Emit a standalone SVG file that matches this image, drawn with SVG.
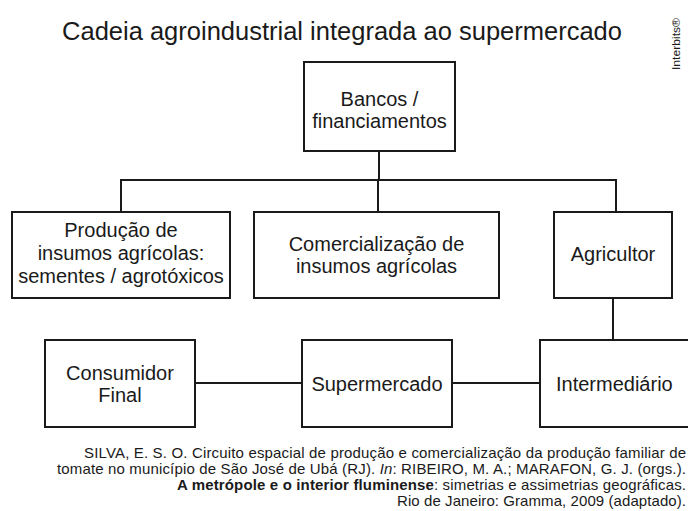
<svg xmlns="http://www.w3.org/2000/svg" width="688" height="511" viewBox="0 0 688 511">
<style>
text{font-family:"Liberation Sans",Arial,sans-serif;fill:#1a1a1a}
.box{fill:#fff;stroke:#1a1a1a;stroke-width:2}
.lbl{font-size:20px;text-anchor:middle}
.con{fill:none;stroke:#1a1a1a;stroke-width:2}
.cit{font-size:15px;text-anchor:end}
</style>
<rect width="688" height="511" fill="#fff"/>
<text x="342" y="40" font-size="25.5" text-anchor="middle">Cadeia agroindustrial integrada ao supermercado</text>
<text transform="translate(680,70) rotate(-90)" font-size="11" textLength="52" lengthAdjust="spacingAndGlyphs">Interbits®</text>
<g id="connectors">
<path class="con" d="M379 151V180M121 212V180H616V212M378 180V212M613 298V340M195 383H302M452 383H540"/>
</g>
<g id="bancos"><rect class="box" x="304" y="62" width="151" height="89"/><text class="lbl" x="379.5" y="106">Bancos /</text><text class="lbl" x="379.5" y="128">financiamentos</text></g>
<g id="producao"><rect class="box" x="12" y="212" width="218" height="86"/><text class="lbl" x="121" y="237">Produção de</text><text class="lbl" x="121" y="260">insumos agrícolas:</text><text class="lbl" x="121" y="283">sementes / agrotóxicos</text></g>
<g id="comercializacao"><rect class="box" x="254" y="212" width="245" height="86"/><text class="lbl" x="376.5" y="251">Comercialização de</text><text class="lbl" x="376.5" y="273">insumos agrícolas</text></g>
<g id="agricultor"><rect class="box" x="554" y="212" width="118" height="86"/><text class="lbl" x="613" y="261">Agricultor</text></g>
<g id="consumidor"><rect class="box" x="45" y="340" width="150" height="87"/><text class="lbl" x="120" y="380">Consumidor</text><text class="lbl" x="120" y="402">Final</text></g>
<g id="supermercado"><rect class="box" x="302" y="340" width="150" height="87"/><text class="lbl" x="377" y="391">Supermercado</text></g>
<g id="intermediario"><rect class="box" x="540" y="340" width="160" height="87"/><text x="556" y="391" font-size="20">Intermediário</text></g>
<g id="citation">
<text class="cit" x="686" y="458" textLength="602" lengthAdjust="spacing">SILVA, E. S. O. Circuito espacial de produção e comercialização da produção familiar de</text>
<text class="cit" x="686" y="474" textLength="629" lengthAdjust="spacing">tomate no município de São José de Ubá (RJ). <tspan font-style="italic">In</tspan>: RIBEIRO, M. A.; MARAFON, G. J. (orgs.).</text>
<text class="cit" x="686" y="490" textLength="509" lengthAdjust="spacing"><tspan font-weight="bold">A metrópole e o interior fluminense</tspan>: simetrias e assimetrias geográficas.</text>
<text class="cit" x="686" y="506" textLength="289" lengthAdjust="spacing">Rio de Janeiro: Gramma, 2009 (adaptado).</text>
</g>
</svg>
